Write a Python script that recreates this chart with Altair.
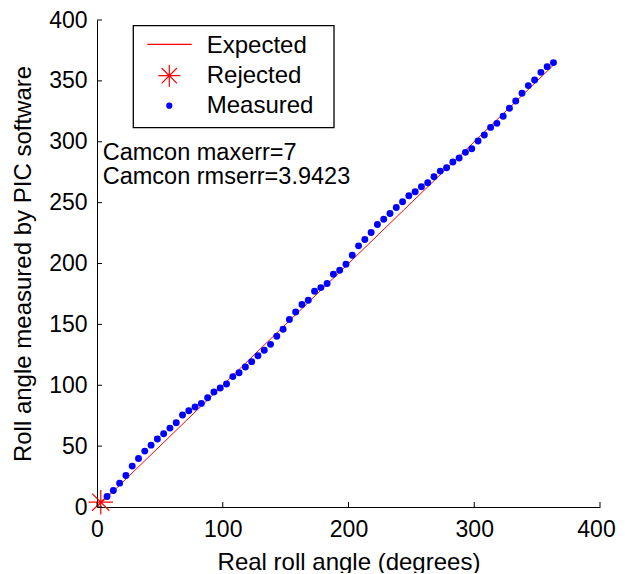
import altair as alt
import pandas as pd

# ---- data ----
x_measured = [8, 13, 18, 23, 28, 33, 38, 43, 48, 53, 58, 63, 68, 73, 78, 83, 88, 93,
              98, 103, 108, 113, 118, 123, 128, 133, 138, 143, 148, 153, 158, 163,
              168, 173, 178, 183, 188, 193, 198, 203, 208, 213, 218, 223, 228, 233,
              238, 243, 248, 253, 258, 263, 268, 273, 278, 283, 288, 293, 298, 303,
              308, 313, 318, 323, 328, 333, 338, 343, 348, 353, 358, 363]
y_measured = [8.6, 13.6, 19.6, 25.9, 33.6, 39.9, 45.9, 50.8, 55.8, 60.2, 64.8, 69.2,
              75.5, 79.1, 82.1, 85.1, 89.8, 94.4, 97.7, 101.0, 107.1, 110.3, 115.0,
              119.4, 124.3, 128.7, 133.6, 140.2, 146.0, 154.0, 160.2, 166.3, 169.8,
              177.2, 180.2, 183.5, 191.2, 194.5, 199.4, 206.8, 214.5, 219.7, 225.5,
              232.1, 236.4, 241.1, 246.0, 250.7, 255.6, 258.9, 263.0, 266.3, 271.2,
              275.9, 278.6, 283.3, 286.6, 291.3, 294.2, 300.6, 305.5, 311.8, 315.1,
              320.9, 327.5, 333.5, 339.8, 346.1, 350.7, 357.0, 361.7, 365.0]
x_expected = [0, 363]
y_expected = [0, 363]
x_rejected = [3]
y_rejected = [4]
x_ticks = [0, 100, 200, 300, 400]
y_ticks = [0, 50, 100, 150, 200, 250, 300, 350, 400]
legend_labels = ["Expected", "Rejected", "Measured"]
annotation_lines = ["Camcon maxerr=7", "Camcon rmserr=3.9423"]
x_title = "Real roll angle (degrees)"
y_title = "Roll angle measured by PIC software"

FONT = "Liberation Sans, Arial, Helvetica, sans-serif"
STAR = "M0,-1L0,1M-1,0L1,0M-0.7,-0.7L0.7,0.7M-0.7,0.7L0.7,-0.7"
W, H = 503, 487

measured_df = pd.DataFrame({"x": x_measured, "y": y_measured})
expected_df = pd.DataFrame({"x": x_expected, "y": y_expected})
rejected_df = pd.DataFrame({"x": x_rejected, "y": y_rejected})
xt_df = pd.DataFrame({"x": x_ticks})
yt_df = pd.DataFrame({"y": y_ticks})
one = pd.DataFrame({"item": ["legend"]})

xscale = alt.Scale(domain=[0, 400], nice=False, zero=False)
yscale = alt.Scale(domain=[0, 400], nice=False, zero=False)

xaxis = alt.Axis(values=x_ticks, title=x_title, ticks=False, tickSize=0,
                 labelPadding=29, labelBaseline="alphabetic", labelFlush=False,
                 labelOffset={"condition": {"test": "datum.value >= 400", "value": -4},
                              "value": 0},
                 labelOverlap=False, grid=False, format="d",
                 titleX=W / 2, titleY=62, titleBaseline="alphabetic",
                 titleAlign="center")
yaxis = alt.Axis(values=y_ticks, title=y_title, ticks=False, tickSize=0,
                 labelPadding=10, labelOverlap=False, grid=False, format="d",
                 titleX=-67, titleY=H / 2, titleAngle=270,
                 titleBaseline="alphabetic", titleAlign="center")

X = alt.X("x:Q", scale=xscale, axis=xaxis)
Y = alt.Y("y:Q", scale=yscale, axis=yaxis)

expected = alt.Chart(expected_df).mark_line(color="#ff0000", strokeWidth=1).encode(x=X, y=Y)
rejected = alt.Chart(rejected_df).mark_point(
    shape=STAR, filled=False, color="#ff0000", size=600, strokeWidth=1.2, opacity=1
).encode(x=X, y=Y)
measured = alt.Chart(measured_df).mark_circle(
    color="#0000ff", size=48, opacity=1
).encode(x=X, y=Y)

xticks = alt.Chart(xt_df).mark_rule(color="black", strokeWidth=1).encode(
    x=X, y=alt.value(H - 5), y2=alt.value(H))
yticks = alt.Chart(yt_df).mark_rule(color="black", strokeWidth=1).encode(
    y=Y, x=alt.value(0), x2=alt.value(5))

# legend (drawn by hand, MATLAB style)
legend_box = alt.Chart(one).mark_rect(
    fill="white", stroke="black", strokeWidth=1.3
).encode(x=alt.value(36.3), x2=alt.value(237), y=alt.value(5.7), y2=alt.value(107.7))
leg_line = alt.Chart(one).mark_rule(color="#ff0000", strokeWidth=1.2).encode(
    x=alt.value(50.3), x2=alt.value(94.7), y=alt.value(24.3))
leg_star = alt.Chart(one).mark_point(
    shape=STAR, filled=False, color="#ff0000", size=480, strokeWidth=1.2, opacity=1
).encode(x=alt.value(72.3), y=alt.value(55.7))
leg_dot = alt.Chart(one).mark_circle(color="#0000ff", size=38, opacity=1).encode(
    x=alt.value(72.3), y=alt.value(85.7))

def label(text, x, y, size):
    return alt.Chart(one).mark_text(
        text=text, font=FONT, fontSize=size, align="left", baseline="alphabetic",
        color="black"
    ).encode(x=alt.value(x), y=alt.value(y))

leg_texts = [label(legend_labels[0], 109.7, 32.7, 24),
             label(legend_labels[1], 109.7, 63.3, 24),
             label(legend_labels[2], 109.7, 93.3, 24)]
ann_texts = [label(annotation_lines[0], 5.7, 140, 23.5),
             label(annotation_lines[1], 5.7, 164, 23.5)]

chart = alt.layer(
    expected, rejected, measured, xticks, yticks,
    legend_box, leg_line, leg_star, leg_dot, *leg_texts, *ann_texts
).properties(
    width=W, height=H,
    padding={"left": 89, "top": 12, "right": 17, "bottom": 66},
    autosize=alt.AutoSizeParams(type="none"),
    background="white",
).configure_view(stroke=None).configure_axis(
    labelFont=FONT, labelFontSize=23, labelColor="black",
    titleFont=FONT, titleFontSize=24, titleFontWeight="normal", titleColor="black",
    domainColor="black", domainWidth=1,
)

chart.save("out.html", embed_options={"renderer": "svg", "actions": False})
